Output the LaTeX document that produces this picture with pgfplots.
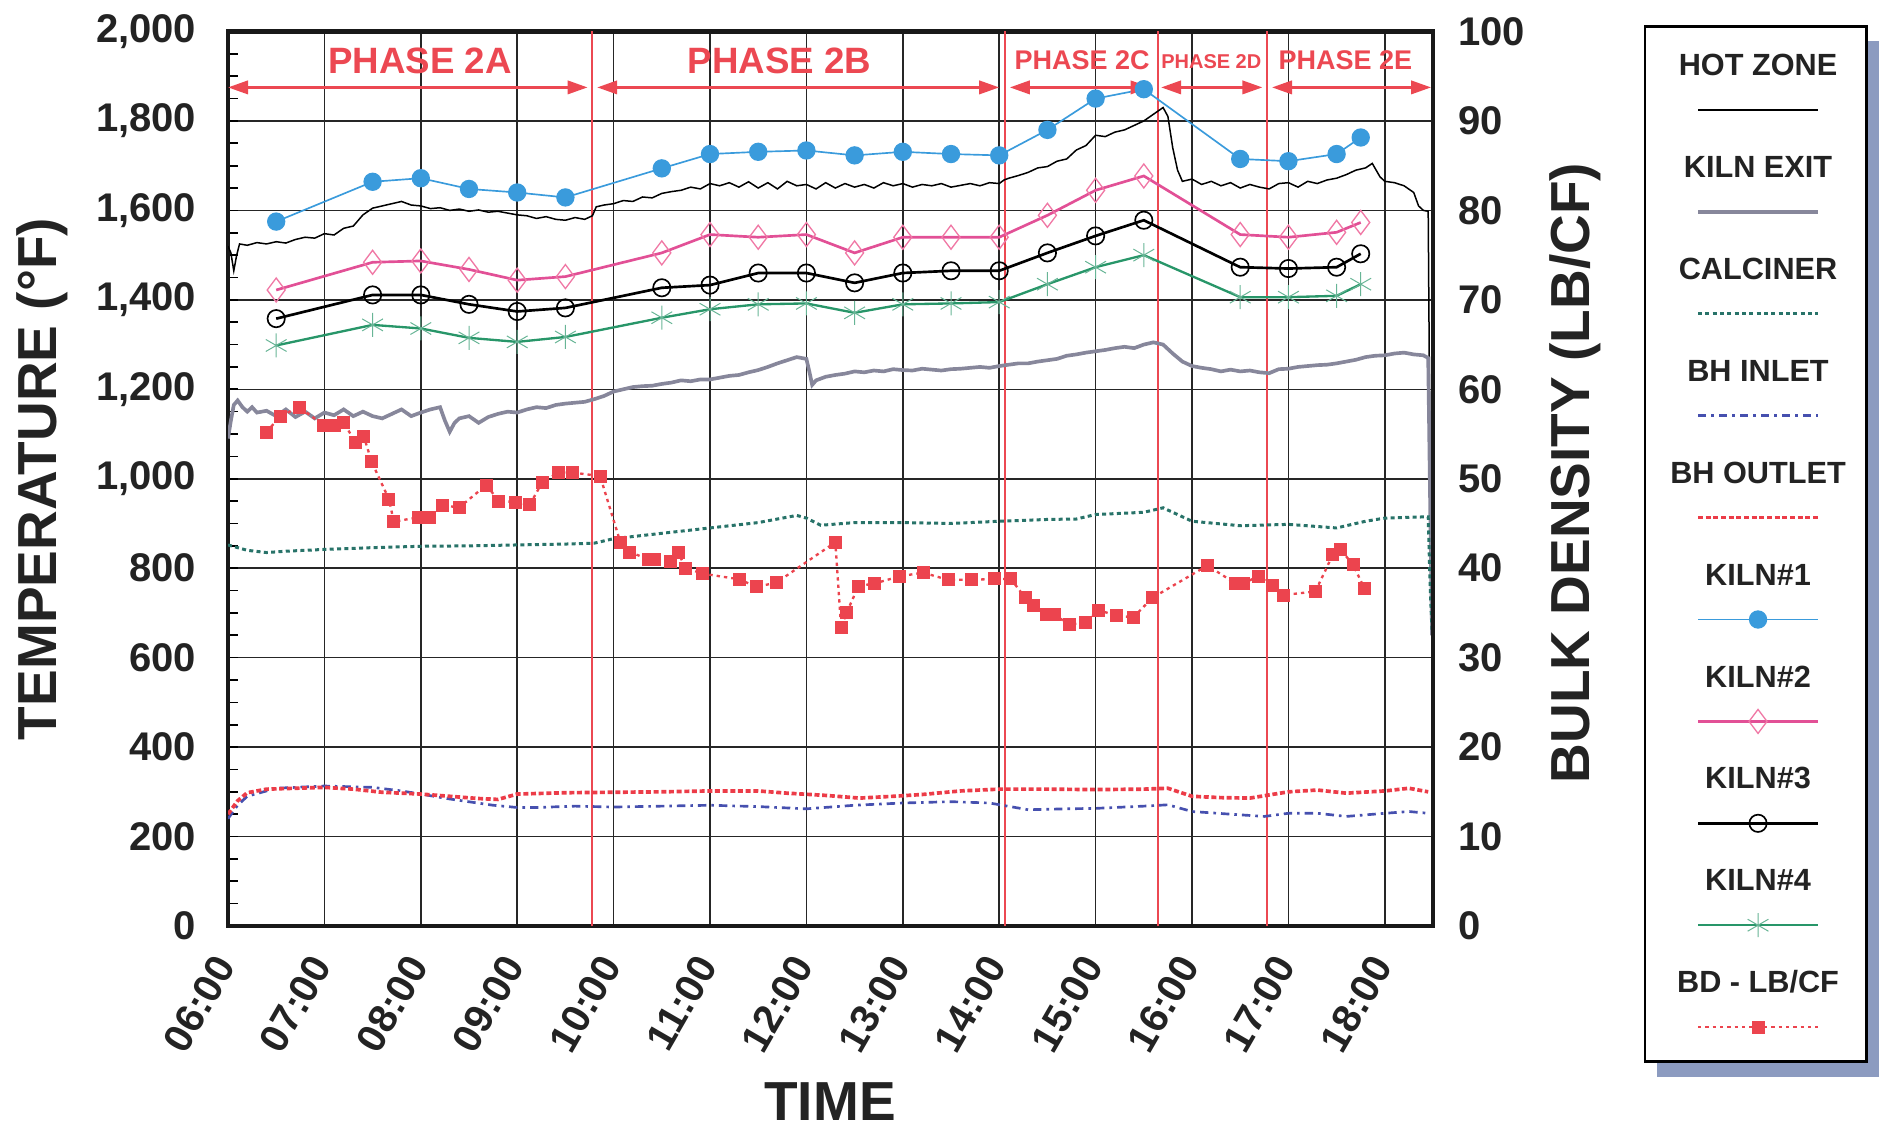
\documentclass[border=0pt]{standalone}
\usepackage{fontspec}
\setmainfont{Liberation Sans}
\usepackage{pgfplots}
\pgfplotsset{compat=1.18}
\usetikzlibrary{arrows.meta}

\definecolor{phasered}{RGB}{236,72,82}
\definecolor{kone}{RGB}{58,155,220}
\definecolor{ktwo}{RGB}{226,80,150}
\definecolor{ktwomark}{RGB}{240,120,165}
\definecolor{kfour}{RGB}{40,150,105}
\definecolor{calc}{RGB}{40,115,105}
\definecolor{bhin}{RGB}{70,80,175}
\definecolor{bhout}{RGB}{236,60,72}
\definecolor{bdred}{RGB}{236,68,78}
\definecolor{kexit}{RGB}{135,135,155}
\definecolor{shadowc}{RGB}{140,155,192}
\definecolor{txt}{RGB}{35,35,35}

\pgfplotsset{
  leg/.style={legend image code/.code={%
     \path[draw=none, fill=none] (-20pt,-12pt) rectangle (56pt,18.57pt);
     \draw[mark repeat=2,mark phase=2,##1] plot coordinates {(0pt,0pt) (18pt,0pt) (36pt,0pt)};
     \node[text=txt, draw=none, fill=none, solid, inner sep=0pt, anchor=base,
           font=\bfseries\fontsize{9.2}{11}\selectfont] at (18pt,10.3pt) {#1};
  }},
}

\begin{document}
\begin{tikzpicture}
% legend frame with shadow
\fill[shadowc] (428.7pt,-45.2pt) rectangle (495.2pt,265.4pt);
\filldraw[fill=white, draw=black, line width=0.8pt] (425.1pt,-40.7pt) rectangle (491.6pt,269.9pt);

\begin{axis}[
  at={(0pt,0pt)}, anchor=south west,
  scale only axis, width=361.5pt, height=268.35pt,
  xmin=6, xmax=18.5, ymin=0, ymax=2000,
  xtick={6,7,...,18},
  xticklabels={06:00,07:00,08:00,09:00,10:00,11:00,12:00,13:00,14:00,15:00,16:00,17:00,18:00},
  ytick={0,200,...,2000},
  yticklabels={0,200,400,600,800,{1,000},{1,200},{1,400},{1,600},{1,800},{2,000}},
  minor y tick num=3,
  ytick pos=left, xtick pos=bottom,
  tick align=inside,
  major tick length=3pt, minor tick length=3pt,
  xtick style={draw=none},
  ytick style={line width=0.5pt, black},
  grid=major,
  major grid style={line width=0.45pt, black!85},
  axis line style={line width=1.35pt, black!90},
  /pgf/number format/assume math mode=true,
  ticklabel style={font=\bfseries\fontsize{12}{14}\selectfont, text=txt},
  xticklabel style={inner sep=0.5pt, xshift=-0.65pt, yshift=-9.5pt, rotate=60, anchor=east},
  yticklabel style={xshift=-6pt},
  ylabel={TEMPERATURE (°F)},
  ylabel style={at={(axis description cs:-0.1544,0.4997)}, anchor=center,
     font=\bfseries\fontsize{16.5}{18}\selectfont, text=txt},
  xlabel={TIME},
  xlabel style={at={(axis description cs:0.4996,-0.1968)}, anchor=center,
     font=\bfseries\fontsize{16.5}{18}\selectfont, text=txt},
  legend style={at={(axis description cs:1.16459,0.98144)}, anchor=north west,
     draw=none, fill=none, inner sep=0pt, outer sep=0pt, row sep=0pt, column sep=0pt,
     nodes={inner sep=0pt, text depth=0pt}},
  legend cell align=left,
]
% phase separators
\addplot[phasered, line width=0.6pt, forget plot] coordinates {(9.78,0) (9.78,2000)};
\addplot[phasered, line width=0.6pt, forget plot] coordinates {(14.06,0) (14.06,2000)};
\addplot[phasered, line width=0.6pt, forget plot] coordinates {(15.65,0) (15.65,2000)};
\addplot[phasered, line width=0.6pt, forget plot] coordinates {(16.78,0) (16.78,2000)};

% HOT ZONE
\addplot[black, line width=0.45pt, leg={HOT ZONE}] coordinates {
(6.00,1520)(6.03,1505)(6.06,1465)(6.09,1500)(6.12,1525)(6.2,1522)(6.3,1528)(6.4,1525)(6.5,1530)
(6.6,1527)(6.7,1535)(6.8,1540)(6.9,1538)(7.0,1548)(7.1,1545)(7.2,1560)(7.3,1565)(7.4,1590)
(7.5,1605)(7.6,1610)(7.7,1615)(7.8,1620)(7.9,1612)(8.0,1610)(8.1,1604)(8.2,1606)(8.3,1600)
(8.4,1603)(8.5,1598)(8.6,1601)(8.7,1596)(8.8,1598)(8.9,1594)(9.0,1590)(9.1,1588)(9.2,1582)
(9.3,1586)(9.4,1580)(9.5,1578)(9.6,1584)(9.7,1580)(9.78,1588)(9.82,1608)(9.9,1612)(10.0,1615)
(10.1,1622)(10.2,1620)(10.3,1630)(10.4,1628)(10.5,1638)(10.6,1642)(10.7,1645)(10.8,1652)
(10.9,1648)(11.0,1660)(11.1,1655)(11.2,1662)(11.3,1652)(11.4,1664)(11.5,1650)(11.6,1662)
(11.7,1648)(11.8,1665)(11.9,1655)(12.0,1658)(12.1,1648)(12.2,1662)(12.3,1650)(12.4,1660)
(12.5,1652)(12.6,1658)(12.7,1650)(12.8,1662)(12.9,1655)(13.0,1660)(13.1,1652)(13.2,1658)
(13.3,1655)(13.4,1660)(13.5,1652)(13.6,1656)(13.7,1660)(13.8,1655)(13.9,1662)(14.0,1660)
(14.05,1668)(14.1,1672)(14.2,1678)(14.3,1685)(14.4,1695)(14.5,1698)(14.6,1710)(14.7,1715)
(14.8,1735)(14.9,1745)(15.0,1768)(15.1,1765)(15.2,1775)(15.3,1780)(15.4,1790)(15.5,1800)
(15.6,1815)(15.7,1830)(15.75,1810)(15.8,1740)(15.85,1690)(15.9,1665)(16.0,1670)(16.1,1658)
(16.2,1665)(16.3,1655)(16.4,1662)(16.5,1650)(16.6,1658)(16.7,1652)(16.8,1648)(16.9,1660)
(17.0,1662)(17.1,1652)(17.2,1665)(17.3,1660)(17.4,1668)(17.5,1672)(17.6,1680)(17.7,1690)
(17.8,1695)(17.87,1705)(17.95,1675)(18.0,1665)(18.1,1662)(18.2,1655)(18.3,1640)(18.35,1610)
(18.4,1600)(18.45,1598)(18.47,1000)(18.49,680)};
\addlegendentry{}

% KILN EXIT
\addplot[kexit, line width=1.1pt, leg={KILN EXIT}] coordinates {
(6.00,1090)(6.03,1130)(6.06,1165)(6.1,1175)(6.15,1160)(6.2,1150)(6.25,1160)(6.3,1148)(6.4,1152)
(6.5,1140)(6.6,1155)(6.7,1138)(6.8,1150)(6.9,1135)(7.0,1148)(7.1,1142)(7.2,1155)(7.3,1140)
(7.4,1150)(7.5,1140)(7.6,1135)(7.7,1145)(7.8,1155)(7.9,1140)(8.0,1148)(8.1,1155)(8.2,1160)
(8.25,1130)(8.3,1105)(8.35,1125)(8.4,1135)(8.5,1140)(8.6,1125)(8.7,1138)(8.8,1145)(8.9,1150)
(9.0,1148)(9.1,1155)(9.2,1160)(9.3,1158)(9.4,1165)(9.5,1168)(9.6,1170)(9.7,1172)(9.8,1178)
(9.9,1185)(10.0,1195)(10.1,1200)(10.2,1205)(10.3,1207)(10.4,1208)(10.5,1212)(10.6,1215)
(10.7,1220)(10.8,1218)(10.9,1222)(11.0,1222)(11.1,1226)(11.2,1230)(11.3,1232)(11.4,1238)
(11.5,1243)(11.6,1250)(11.7,1258)(11.8,1265)(11.9,1272)(12.0,1268)(12.03,1240)(12.06,1210)
(12.1,1220)(12.2,1228)(12.3,1232)(12.4,1235)(12.5,1240)(12.6,1238)(12.7,1242)(12.8,1240)
(12.9,1245)(13.0,1243)(13.1,1242)(13.2,1246)(13.3,1244)(13.4,1242)(13.5,1245)(13.6,1246)
(13.7,1248)(13.8,1250)(13.9,1248)(14.0,1252)(14.1,1255)(14.2,1258)(14.3,1258)(14.4,1262)
(14.5,1265)(14.6,1268)(14.7,1275)(14.8,1278)(14.9,1282)(15.0,1285)(15.1,1288)(15.2,1292)
(15.3,1295)(15.4,1292)(15.5,1300)(15.6,1305)(15.7,1300)(15.8,1280)(15.9,1262)(16.0,1252)
(16.1,1248)(16.2,1245)(16.3,1240)(16.4,1244)(16.5,1240)(16.6,1242)(16.7,1238)(16.8,1236)
(16.9,1245)(17.0,1246)(17.1,1250)(17.2,1252)(17.3,1254)(17.4,1255)(17.5,1258)(17.6,1262)
(17.7,1266)(17.8,1272)(17.9,1275)(18.0,1276)(18.1,1280)(18.2,1282)(18.3,1278)(18.4,1276)
(18.45,1270)(18.47,950)(18.49,650)};
\addlegendentry{}

% CALCINER
\addplot[calc, line width=0.9pt, dash pattern=on 1.2pt off 1pt, leg={CALCINER}] coordinates {
(6.0,852)(6.2,840)(6.4,835)(6.6,838)(6.8,840)(7.0,842)(7.5,846)(8.0,849)(8.5,850)(9.0,852)
(9.5,854)(9.8,856)(10.0,866)(10.5,878)(11.0,890)(11.5,902)(11.9,918)(12.0,912)(12.15,896)
(12.5,902)(13.0,902)(13.5,900)(14.0,905)(14.5,909)(14.8,910)(15.0,920)(15.5,925)(15.7,935)
(15.9,915)(16.0,905)(16.5,895)(17.0,898)(17.5,890)(17.8,905)(18.0,912)(18.45,915)(18.47,760)(18.49,660)};
\addlegendentry{}

% BH INLET
\addplot[bhin, line width=0.8pt, dash pattern=on 2.5pt off 1.5pt on 0.8pt off 1.5pt, leg={BH INLET}] coordinates {
(6.0,240)(6.1,270)(6.2,290)(6.5,308)(7.0,313)(7.5,310)(7.8,302)(8.0,295)(8.3,284)(8.75,270)
(9.0,265)(9.2,265)(9.6,268)(10.0,266)(10.5,268)(11.0,270)(11.5,267)(12.0,262)(12.5,270)
(13.0,275)(13.5,278)(13.9,275)(14.3,260)(14.7,262)(15.0,263)(15.5,268)(15.75,271)(16.0,256)
(16.4,250)(16.75,245)(17.0,252)(17.3,252)(17.6,245)(18.0,252)(18.25,256)(18.45,252)};
\addlegendentry{}

% BH OUTLET
\addplot[bhout, line width=1.1pt, dash pattern=on 1.5pt off 0.8pt, leg={BH OUTLET}] coordinates {
(6.0,250)(6.1,280)(6.2,298)(6.4,306)(6.7,308)(7.0,310)(7.3,306)(7.6,299)(8.0,295)(8.3,290)
(8.6,285)(8.8,283)(9.0,295)(9.5,298)(10.0,299)(10.5,300)(11.0,302)(11.5,302)(11.8,297)
(12.2,292)(12.55,286)(12.9,290)(13.2,294)(13.6,302)(14.0,306)(14.5,306)(15.0,305)(15.5,306)
(15.75,308)(16.0,290)(16.3,287)(16.6,286)(17.0,300)(17.3,304)(17.6,297)(18.0,302)(18.25,308)(18.45,300)};
\addlegendentry{}

% KILN#1
\addplot[kone, line width=0.5pt, mark=*, mark size=2.5pt, mark options={fill=kone, draw=kone}, leg={KILN\#1}] coordinates {
(6.5,1575)(7.5,1664)(8.0,1672)(8.5,1648)(9.0,1640)(9.5,1629)(10.5,1694)(11.0,1726)(11.5,1731)
(12.0,1734)(12.5,1723)(13.0,1731)(13.5,1726)(14.0,1723)(14.5,1780)(15.0,1850)(15.5,1871)
(16.5,1715)(17.0,1710)(17.5,1726)(17.75,1763)};
\addlegendentry{}

% KILN#2
\addplot[ktwo, line width=0.8pt, mark=diamond, mark size=3.6pt, mark options={draw=ktwomark, fill=none, line width=0.4pt}, leg={KILN\#2}] coordinates {
(6.5,1422)(7.5,1484)(8.0,1487)(8.5,1468)(9.0,1444)(9.5,1452)(10.5,1505)(11.0,1546)(11.5,1540)
(12.0,1546)(12.5,1505)(13.0,1540)(13.5,1540)(14.0,1540)(14.5,1589)(15.0,1645)(15.5,1677)
(16.5,1546)(17.0,1540)(17.5,1551)(17.75,1573)};
\addlegendentry{}

% KILN#3
\addplot[black, line width=0.8pt, mark=o, mark size=2.6pt, mark options={line width=0.5pt}, leg={KILN\#3}] coordinates {
(6.5,1358)(7.5,1411)(8.0,1411)(8.5,1390)(9.0,1374)(9.5,1382)(10.5,1427)(11.0,1433)(11.5,1460)
(12.0,1460)(12.5,1438)(13.0,1460)(13.5,1465)(14.0,1465)(14.5,1505)(15.0,1543)(15.5,1578)
(16.5,1473)(17.0,1470)(17.5,1473)(17.75,1503)};
\addlegendentry{}

% KILN#4
\addplot[kfour, line width=0.7pt, mark=asterisk, mark size=3.6pt, mark options={line width=0.3pt, draw=kfour!70}, leg={KILN\#4}] coordinates {
(6.5,1298)(7.5,1344)(8.0,1336)(8.5,1315)(9.0,1306)(9.5,1317)(10.5,1360)(11.0,1379)(11.5,1390)
(12.0,1392)(12.5,1371)(13.0,1390)(13.5,1392)(14.0,1395)(14.5,1435)(15.0,1473)(15.5,1500)
(16.5,1406)(17.0,1406)(17.5,1409)(17.75,1435)};
\addlegendentry{}

\addlegendimage{bdred, line width=0.7pt, dash pattern=on 1pt off 1.2pt, mark=square*, mark size=1.6pt, mark options={solid, fill=bdred, draw=bdred}, leg={BD - LB/CF}}
\addlegendentry{}

% phase arrows and labels
\draw[phasered, line width=0.8pt, {Triangle[length=6pt,width=4pt]}-{Triangle[length=6pt,width=4pt]}] (axis cs:6.0,1875) -- (axis cs:9.73,1875);
\draw[phasered, line width=0.8pt, {Triangle[length=6pt,width=4pt]}-{Triangle[length=6pt,width=4pt]}] (axis cs:9.83,1875) -- (axis cs:14.0,1875);
\draw[phasered, line width=0.8pt, {Triangle[length=6pt,width=4pt]}-{Triangle[length=6pt,width=4pt]}] (axis cs:14.11,1875) -- (axis cs:15.57,1875);
\draw[phasered, line width=0.8pt, {Triangle[length=6pt,width=4pt]}-{Triangle[length=6pt,width=4pt]}] (axis cs:15.68,1875) -- (axis cs:16.73,1875);
\draw[phasered, line width=0.8pt, {Triangle[length=6pt,width=4pt]}-{Triangle[length=6pt,width=4pt]}] (axis cs:16.83,1875) -- (axis cs:18.48,1875);
\node[text=phasered, font=\bfseries\fontsize{11}{13}\selectfont, inner sep=0pt] at (axis cs:7.99,1935) {PHASE 2A};
\node[text=phasered, font=\bfseries\fontsize{11}{13}\selectfont, inner sep=0pt] at (axis cs:11.72,1935) {PHASE 2B};
\node[text=phasered, font=\bfseries\fontsize{8.1}{10}\selectfont, inner sep=0pt] at (axis cs:14.86,1935) {PHASE 2C};
\node[text=phasered, font=\bfseries\fontsize{6}{7}\selectfont, inner sep=0pt] at (axis cs:16.20,1933) {PHASE 2D};
\node[text=phasered, font=\bfseries\fontsize{8.1}{10}\selectfont, inner sep=0pt] at (axis cs:17.59,1935) {PHASE 2E};
\end{axis}

\begin{axis}[
  at={(0pt,0pt)}, anchor=south west,
  scale only axis, width=361.5pt, height=268.35pt,
  xmin=6, xmax=18.5, ymin=0, ymax=100,
  axis y line*=right, axis x line=none,
  ytick={0,10,...,100},
  ytick style={draw=none},
  axis line style={line width=1.35pt, black!90},
  /pgf/number format/assume math mode=true,
  ticklabel style={font=\bfseries\fontsize{12}{14}\selectfont, text=txt},
  yticklabel style={xshift=4pt},
  ylabel={BULK DENSITY (LB/CF)},
  ylabel style={at={(axis description cs:1.1178,0.5064)}, anchor=center,
     font=\bfseries\fontsize{16.5}{18}\selectfont, text=txt},
]
\addplot[bdred, line width=0.7pt, dash pattern=on 1pt off 1.2pt, mark=square*, mark size=1.6pt, mark options={solid, fill=bdred, draw=bdred}] coordinates {
(6.40,55.2)(6.54,57.0)(6.74,58.0)(6.99,56.0)(7.10,55.9)(7.20,56.3)(7.32,54.1)(7.41,54.7)(7.49,51.9)
(7.67,47.7)(7.72,45.2)(7.98,45.7)(8.09,45.7)(8.23,47.0)(8.40,46.8)(8.68,49.3)(8.81,47.5)(8.98,47.4)
(9.13,47.1)(9.26,49.6)(9.43,50.7)(9.57,50.7)(9.86,50.3)(10.07,42.9)(10.17,41.8)(10.36,41.0)
(10.42,41.0)(10.59,40.75)(10.67,41.7)(10.75,40.0)(10.92,39.4)(11.31,38.75)(11.48,37.9)(11.69,38.4)
(12.30,42.9)(12.36,33.4)(12.42,35.1)(12.54,38.0)(12.71,38.3)(12.97,39.1)(13.21,39.5)(13.47,38.7)
(13.71,38.7)(13.95,38.8)(14.12,38.8)(14.27,36.7)(14.36,35.8)(14.49,34.8)(14.57,34.8)(14.73,33.7)
(14.89,33.9)(15.03,35.3)(15.22,34.7)(15.39,34.5)(15.59,36.7)(16.16,40.3)(16.45,38.3)(16.53,38.3)
(16.69,39.1)(16.83,38.1)(16.95,37.0)(17.28,37.4)(17.46,41.5)(17.54,42.1)(17.67,40.4)(17.79,37.7)};
\end{axis}

\pgfresetboundingbox
\path[use as bounding box] (-68.4pt,-64.8pt) rectangle (495.3pt,277.8pt);
\end{tikzpicture}
\end{document}
